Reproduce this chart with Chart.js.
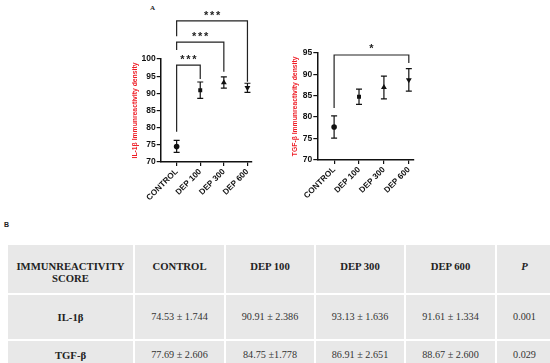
<!DOCTYPE html>
<html><head><meta charset="utf-8">
<script src="https://cdn.jsdelivr.net/npm/chart.js@4.4.0/dist/chart.umd.min.js"></script>
<style>
html,body{margin:0;padding:0;background:#fff;width:550px;height:363px;overflow:hidden;position:relative;font-family:'Liberation Sans',Arial,sans-serif}
canvas{position:absolute}
#lblA{position:absolute;left:150px;top:4px;font:bold 7px 'Liberation Serif',serif;color:#222}
#lblB{position:absolute;left:4px;top:221px;font:bold 7px 'Liberation Sans',sans-serif;color:#222}
table{position:absolute;left:6px;top:243px;border-collapse:collapse;table-layout:fixed;width:546px;font-family:'Liberation Serif',serif;color:#333}
td,th{background:#e8e8e8;border:2px solid #fff;text-align:center;padding:0;font-size:10.2px;line-height:12px}
th{font-weight:bold;font-size:10.7px;color:#222;vertical-align:top;padding-top:15px;height:33px}
td.rl{font-weight:bold;font-size:10.7px;color:#222}
tr.r1 td{height:44px}
tr.r2 td{height:27px}
</style></head>
<body>
<div id="lblA">A</div>
<canvas id="c1" width="165" height="215" style="left:100px;top:0px"></canvas>
<canvas id="c2" width="170" height="215" style="left:255px;top:0px"></canvas>
<div id="lblB">B</div>
<table id="tbl">
<colgroup><col style="width:127px"><col style="width:91px"><col style="width:90px"><col style="width:90px"><col style="width:91px"><col style="width:57px"></colgroup>
<tbody></tbody></table>
<script>
const categories = ['CONTROL', 'DEP 100', 'DEP 300', 'DEP 600'];
const il1bMean = [74.53, 90.91, 93.13, 91.61];
const il1bSem = [1.744, 2.386, 1.636, 1.334];
const tgfbMean = [77.69, 84.75, 86.91, 88.67];
const tgfbSem = [2.606, 1.778, 2.651, 2.600];
const pValues = ['0.001', '0.029'];
const rowLabels = ['IL-1β', 'TGF-β'];
const axisTitles = ['IL-1β Immunreactivity density', 'TGF-β Immunreactivity density'];

const markerStyles = ['circle', 'rect', 'triangle', 'triangle'];
const markerRotation = [0, 0, 0, 180];

// table
(function(){
  const tb = document.querySelector('#tbl tbody');
  let h = '<tr><th>IMMUNREACTIVITY<br>SCORE</th>' + categories.map(c => '<th>' + c + '</th>').join('') + '<th><i>P</i></th></tr>';
  const seps = [[' ± ',' ± ',' ± ',' ± '],[' ± ',' ±',' ± ',' ± ']];
  [[il1bMean, il1bSem], [tgfbMean, tgfbSem]].forEach((pair, r) => {
    h += '<tr class="r' + (r+1) + '"><td class="rl">' + rowLabels[r] + '</td>' +
      pair[0].map((m, i) => '<td>' + m.toFixed(2) + seps[r][i] + pair[1][i].toFixed(3) + '</td>').join('') +
      '<td>' + pValues[r] + '</td></tr>';
  });
  tb.innerHTML = h;
})();

const errorBars = {
  id: 'errorBars',
  beforeDatasetsDraw(chart) {
    const {ctx, scales: {x, y}} = chart;
    chart.data.datasets.forEach(ds => {
      ds.data.forEach((pt, i) => {
        const e = ds.errors[i];
        const px = x.getPixelForValue(pt.x);
        const t = y.getPixelForValue(pt.y + e), b = y.getPixelForValue(pt.y - e);
        ctx.save();
        ctx.strokeStyle = '#111'; ctx.lineWidth = 1.2;
        ctx.beginPath();
        ctx.moveTo(px, t); ctx.lineTo(px, b);
        ctx.moveTo(px - 3, t); ctx.lineTo(px + 3, t);
        ctx.moveTo(px - 3, b); ctx.lineTo(px + 3, b);
        ctx.stroke();
        ctx.restore();
      });
    });
  }
};

const brackets = {
  id: 'brackets',
  afterDraw(chart, args, opts) {
    const {ctx, scales: {x, y}} = chart;
    (opts.items || []).forEach(b => {
      const x1 = x.getPixelForValue(b.from), x2 = x.getPixelForValue(b.to);
      const yy = y.getPixelForValue(b.y);
      ctx.save();
      ctx.strokeStyle = '#222'; ctx.lineWidth = 1.2;
      ctx.beginPath();
      ctx.moveTo(x1, y.getPixelForValue(b.leftEnd));
      ctx.lineTo(x1, yy); ctx.lineTo(x2, yy);
      ctx.lineTo(x2, y.getPixelForValue(b.rightEnd));
      ctx.stroke();
      ctx.fillStyle = '#222';
      ctx.font = 'bold 11px "Liberation Sans", Arial, sans-serif';
      ctx.textAlign = 'center'; ctx.textBaseline = 'alphabetic';
      const cx = (x1 + x2) / 2, ly = y.getPixelForValue(b.labelY) + 6;
      const n = b.stars, pitch = 6;
      for (let k = 0; k < n; k++) {
        ctx.fillText('*', cx + (k - (n - 1) / 2) * pitch, ly);
      }
      ctx.restore();
    });
  }
};

function makeChart(id, means, sems, title, yMin, yMax, yAxisWidth, xAxisHeight, pad, titlePad, bracketItems) {
  const data = means.map((m, i) => ({x: i, y: m}));
  return new Chart(document.getElementById(id), {
    type: 'scatter',
    data: {datasets: [{
      data: data,
      errors: sems,
      pointStyle: markerStyles,
      rotation: markerRotation,
      pointRadius: [2.8, 2.8, 3.4, 3.4],
      backgroundColor: '#111',
      borderColor: '#111',
      borderWidth: 0
    }]},
    options: {
      responsive: false, animation: false, devicePixelRatio: 1,
      layout: {padding: pad},
      plugins: {legend: {display: false}, tooltip: {enabled: false}, brackets: {items: bracketItems}},
      scales: {
        x: {
          type: 'linear', min: -0.675, max: 3.18,
          afterBuildTicks: s => { s.ticks = [0, 1, 2, 3].map(v => ({value: v})); },
          afterFit: s => { s.height = xAxisHeight; },
          grid: {drawOnChartArea: false, drawTicks: true, tickLength: 4, color: '#111', lineWidth: 1.2},
          border: {display: true, color: '#111', width: 1.5},
          ticks: {
            autoSkip: false, maxRotation: 45, minRotation: 45, padding: 1,
            color: '#111', font: {family: 'Liberation Sans', weight: 'bold', size: 8.2},
            callback: v => categories[v]
          }
        },
        y: {
          min: yMin, max: yMax,
          afterFit: s => { s.width = yAxisWidth; },
          grid: {drawOnChartArea: false, drawTicks: true, tickLength: 4, color: '#111', lineWidth: 1.2},
          border: {display: true, color: '#111', width: 1.5},
          ticks: {stepSize: 5, padding: 1, color: '#111', font: {family: 'Liberation Sans', weight: 'bold', size: 8.5}},
          title: {display: true, text: title, color: '#ee1c25', padding: {top: titlePad, bottom: 0},
                  font: {family: 'Liberation Sans', weight: 'bold', size: 6.8}}
        }
      }
    },
    plugins: [errorBars, brackets]
  });
}

makeChart('c1', il1bMean, il1bSem, axisTitles[0], 70, 100, 60.7, 53,
  {left: 0, top: 59, right: 13.3, bottom: 0}, 31.4, [
    {from: 0, to: 3, y: 111.1, leftEnd: 106.6, rightEnd: 93.4, stars: 3, labelY: 113.4},
    {from: 0, to: 2, y: 104.9, leftEnd: 102.6, rightEnd: 96.3, stars: 3, labelY: 107.2},
    {from: 0, to: 1, y: 98.2, leftEnd: 78.8, rightEnd: 94.2, stars: 3, labelY: 100.7}
  ]);
makeChart('c2', tgfbMean, tgfbSem, axisTitles[1], 70, 95, 62.3, 55,
  {left: 0, top: 52.7, right: 11.7, bottom: 0}, 36.4, [
    {from: 0, to: 3, y: 94.46, leftEnd: 82.1, rightEnd: 92.6, stars: 1, labelY: 96.6}
  ]);
</script>
</body></html>
